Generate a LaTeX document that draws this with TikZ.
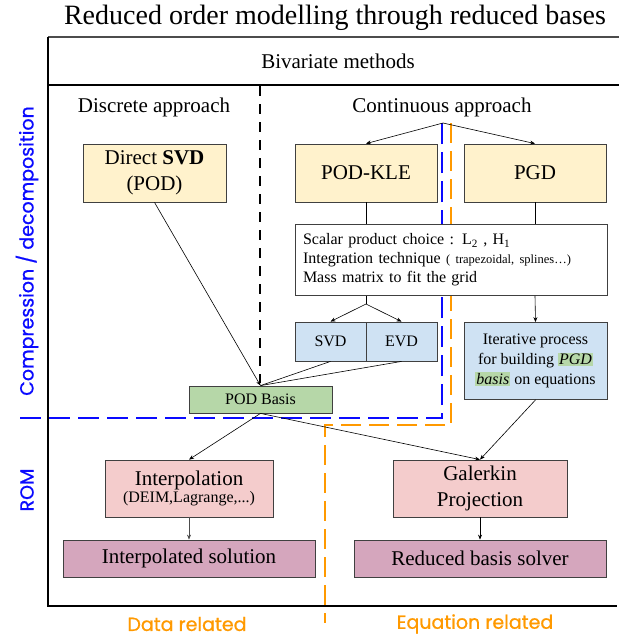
\documentclass[tikz,border=0pt]{standalone}
\usepackage{fontspec}
\setmainfont{Liberation Serif}
\newfontfamily\handfont[FakeBold=0.8]{Poppins}
\usetikzlibrary{arrows.meta}

\definecolor{podyellow}{HTML}{FFF2CC}
\definecolor{podblue}{HTML}{CFE2F3}
\definecolor{podgreen}{HTML}{B6D7A8}
\definecolor{rompink}{HTML}{F4CCCC}
\definecolor{rommauve}{HTML}{D5A6BD}
\definecolor{zoneblue}{HTML}{0A0AFF}
\definecolor{zoneorange}{HTML}{FF9900}

\newcommand\hlgreen[1]{{\setlength\fboxsep{1pt}\colorbox{podgreen}{\itshape #1}}}

\begin{document}
\begin{tikzpicture}[x=1pt,y=-1pt,
    block/.style={draw=black!75,line width=0.8pt,align=center,inner sep=2pt},
    big/.style={font=\fontsize{21}{26}\selectfont},
    small/.style={font=\fontsize{16}{19}\selectfont},
    link/.style={line width=0.6pt,-{Stealth[length=5pt,width=4pt]}},
    hand/.style={font=\handfont\fontsize{19}{22}\selectfont}]
    \useasboundingbox (0,0) rectangle (619,642);

    % frame and headers
    \node (title) at (335,18) {\fontsize{28}{32}\selectfont Reduced order modelling through reduced bases};
    \draw[line width=1.2pt,black!70] (48,37) -- (619,37);
    \draw[line width=1.6pt] (48,85) -- (619,85);
    \draw[line width=1.6pt] (48,37) -- (48,606) -- (617,606);
    \node[big] (bivar) at (338,61) {Bivariate methods};
    \node[big] (disc) at (154,107) {Discrete approach};
    \node[big] (cont) at (442,107) {Continuous approach};

    % zone borders
    \draw[line width=2.4pt,dash pattern=on 10pt off 8pt] (260,86) -- (260,383);
    \draw[line width=2.4pt,zoneblue,dash pattern=on 21pt off 8pt] (20,418) -- (442,418) -- (442,123);
    \draw[line width=2.4pt,zoneorange,dash pattern=on 20pt off 8pt] (451,123) -- (451,425) -- (325,425) -- (325,623);

    % decomposition
    \node[block,big,fill=podyellow,minimum width=143pt,minimum height=58pt] (dsvd) at (154.5,173) {Direct \textbf{SVD}\\(POD)};
    \node[block,big,fill=podyellow,minimum width=142pt,minimum height=58pt] (podkle) at (366,173) {POD-KLE};
    \node[block,big,fill=podyellow,minimum width=142pt,minimum height=58pt] (pgd) at (535,173) {PGD};
    \node[block,small,fill=white,minimum width=312pt,minimum height=71pt,text width=296pt,align=left] (scalar) at (451,260)
        {Scalar product choice : L\textsubscript{2} , H\textsubscript{1}\\
         Integration technique {\fontsize{12.5}{19}\selectfont ( trapezoidal, splines…)}\\
         Mass matrix to fit the grid};
    \node[block,small,fill=podblue,minimum width=71pt,minimum height=39pt] (svd) at (330.5,341.5) {SVD};
    \node[block,small,fill=podblue,minimum width=71pt,minimum height=39pt] (evd) at (401.5,341.5) {EVD};
    \node[block,font=\fontsize{16}{20}\selectfont,fill=podblue,minimum width=143pt,minimum height=77pt] (iter) at (535.5,361)
        {Iterative process\\for building \hlgreen{PGD}\\\hlgreen{basis} on equations};
    \node[block,font=\fontsize{16}{19}\selectfont,fill=podgreen,minimum width=143pt,minimum height=27pt] (podbasis) at (260.5,399.5) {POD Basis};

    % reduced order models
    \node[block,fill=rompink,minimum width=168pt,minimum height=57pt] (interp) at (189,488.5)
        {{\fontsize{21}{24}\selectfont Interpolation}\\{\fontsize{16}{19}\selectfont (DEIM,Lagrange,...)}};
    \node[block,big,fill=rompink,minimum width=174pt,minimum height=57pt] (galerkin) at (480,488.5) {Galerkin\\Projection};
    \node[block,big,fill=rommauve,minimum width=252pt,minimum height=37pt] (isol) at (189,558.5) {Interpolated solution};
    \node[block,big,fill=rommauve,minimum width=252pt,minimum height=37pt] (rbsolver) at (480,558.5) {Reduced basis solver};

    % connectors
    \coordinate (split) at (443,123);
    \coordinate (fork) at (366,304);
    \draw[link] (split) -- (podkle.north);
    \draw[link] (split) -- (pgd.north);
    \draw[line width=0.6pt] (podkle.south) -- (podkle.south |- scalar.north);
    \draw[line width=0.6pt] (pgd.south) -- (pgd.south |- scalar.north);
    \draw[line width=0.6pt] (fork |- scalar.south) -- (fork);
    \draw[link] (fork) -- (svd.north);
    \draw[link] (fork) -- (evd.north);
    \draw[link] (pgd.south |- scalar.south) -- (iter.north);
    \draw[link] (dsvd.south) -- (podbasis.north);
    \draw[line width=0.6pt] (svd.south) -- (podbasis.north);
    \draw[line width=0.6pt] (evd.south) -- (podbasis.north);
    \draw[link] (podbasis.south) -- (interp.north);
    \draw[link] (podbasis.south) -- (galerkin.north);
    \draw[link] (iter.south) -- (galerkin.north);
    \draw[link,black!70] (interp.south) -- (isol.north);
    \draw[link] (galerkin.south) -- (rbsolver.north);

    % zone labels
    \node[hand,text=zoneblue,rotate=90] (compress) at (27,251) {Compression / decomposition};
    \node[hand,text=zoneblue,rotate=90] (rom) at (27,490) {ROM};
    \node[hand,text=zoneorange] (data) at (187,624) {Data related};
    \node[hand,text=zoneorange] (eqn) at (475,624) {Equation related};
\end{tikzpicture}
\end{document}
